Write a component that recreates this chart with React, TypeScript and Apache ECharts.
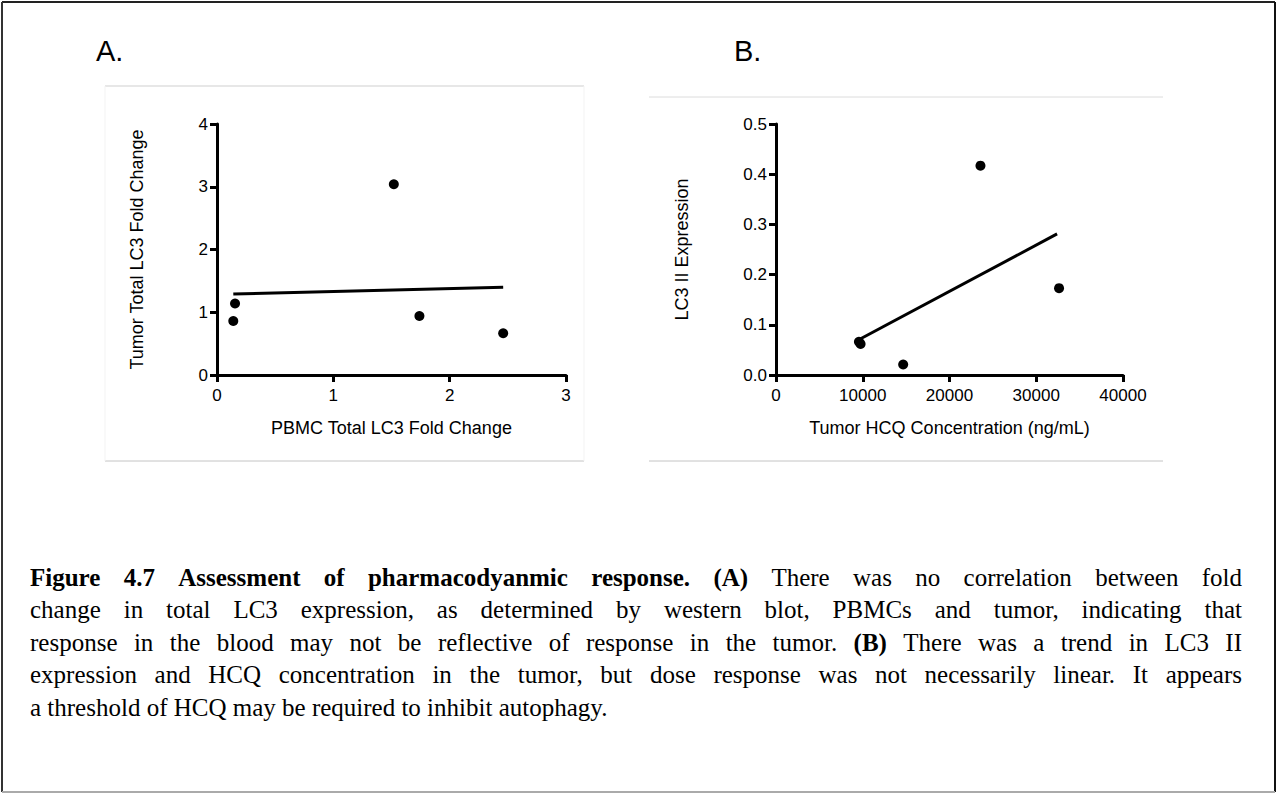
import React, { useEffect, useRef } from "react";
import * as echarts from "echarts";

// ---- Data ----
const panelLabels = ["A.", "B."];
// Panel A: PBMC vs tumor total LC3 fold change
const pbmcFold = [0.14, 0.155, 1.52, 1.74, 2.46];
const tumorFold = [0.86, 1.14, 3.04, 0.94, 0.665];
const fitAX = [0.14, 2.46];
const fitAY = [1.29, 1.40];
const xTicksA = [0, 1, 2, 3];
const yTicksA = [0, 1, 2, 3, 4];
const xTitleA = "PBMC Total LC3 Fold Change";
const yTitleA = "Tumor Total LC3 Fold Change";
// Panel B: tumor HCQ concentration vs LC3 II expression
const hcqConc = [9560, 9750, 14660, 23570, 32630];
const lc3Expr = [0.066, 0.062, 0.021, 0.417, 0.173];
const fitBX = [9480, 32400];
const fitBY = [0.0697, 0.281];
const xTicksB = [0, 10000, 20000, 30000, 40000];
const yTicksB = [0, 0.1, 0.2, 0.3, 0.4, 0.5];
const xTitleB = "Tumor HCQ Concentration (ng/mL)";
const yTitleB = "LC3 II Expression";
// Caption (bold flag per segment)
const captionLines: { t: string; b: boolean }[][] = [
  [
    { t: "Figure 4.7 Assessment of pharmacodyanmic response. (A)", b: true },
    { t: "There was no correlation between fold", b: false },
  ],
  [{ t: "change in total LC3 expression, as determined by western blot, PBMCs and tumor, indicating that", b: false }],
  [
    { t: "response in the blood may not be reflective of response in the tumor.", b: false },
    { t: "(B)", b: true },
    { t: "There was a trend in LC3 II", b: false },
  ],
  [{ t: "expression and HCQ concentration in the tumor, but dose response was not necessarily linear. It appears", b: false }],
  [{ t: "a threshold of HCQ may be required to inhibit autophagy.", b: false }],
];

const SANS = "Liberation Sans";
const SERIF = "Liberation Serif";
const CAP_SIZE = 25;

function buildCaption(): any[] {
  const canvas = document.createElement("canvas");
  const ctx = canvas.getContext("2d")!;
  const left = 30;
  const right = 1242;
  const top = 577;
  const lh = 32.5;
  const els: any[] = [];
  captionLines.forEach((line, li) => {
    const words: { t: string; b: boolean; w: number }[] = [];
    line.forEach((seg) => {
      seg.t.split(" ").forEach((w) => {
        ctx.font = `${seg.b ? "bold " : ""}${CAP_SIZE}px "${SERIF}"`;
        words.push({ t: w, b: seg.b, w: ctx.measureText(w).width });
      });
    });
    const total = words.reduce((s, w) => s + w.w, 0);
    const last = li === captionLines.length - 1;
    ctx.font = `${CAP_SIZE}px "${SERIF}"`;
    const space = last ? ctx.measureText(" ").width : (right - left - total) / (words.length - 1);
    let x = left;
    const y = top + li * lh;
    words.forEach((w) => {
      els.push({
        type: "text",
        x,
        y,
        style: {
          text: w.t,
          font: `${w.b ? "bold " : ""}${CAP_SIZE}px "${SERIF}"`,
          fill: "#000",
          textAlign: "left",
          textVerticalAlign: "middle",
          align: "left",
          verticalAlign: "middle",
        },
      });
      x += w.w + space;
    });
  });
  return els;
}

function axis(min: number, max: number, interval: number, gridIndex: number, name: string, nameGap: number, fmt: (v: number) => string, labelMargin: number) {
  return {
    type: "value",
    gridIndex,
    min,
    max,
    interval,
    name,
    nameLocation: "middle",
    nameGap,
    nameTextStyle: { color: "#000", fontSize: 18, fontFamily: SANS },
    axisLine: { show: true, onZero: false, lineStyle: { color: "#000", width: 3 } },
    axisTick: { show: true, inside: false, length: 7, lineStyle: { color: "#000", width: 3 } },
    axisLabel: { color: "#000", fontSize: 17, fontFamily: SANS, margin: labelMargin, formatter: fmt },
    splitLine: { show: false },
  };
}

export default function App() {
  const ref = useRef<HTMLDivElement>(null);
  useEffect(() => {
    document.body.style.margin = "0";
    const chart = echarts.init(ref.current!, null, { renderer: "svg" });
    const fmtA = (v: number) => String(v);
    const fmtB = (v: number) => v.toFixed(1);
    const option: any = {
      animation: false,
      backgroundColor: "#fff",
      grid: [
        { left: 217, top: 124, width: 349, height: 251 },
        { left: 776, top: 124, width: 347, height: 251 },
      ],
      xAxis: [
        axis(xTicksA[0], xTicksA[xTicksA.length - 1], xTicksA[1] - xTicksA[0], 0, xTitleA, 44, fmtA, 12),
        axis(xTicksB[0], xTicksB[xTicksB.length - 1], xTicksB[1] - xTicksB[0], 1, xTitleB, 44, fmtA, 12),
      ],
      yAxis: [
        axis(yTicksA[0], yTicksA[yTicksA.length - 1], yTicksA[1] - yTicksA[0], 0, yTitleA, 71, fmtA, 9),
        axis(yTicksB[0], yTicksB[yTicksB.length - 1], yTicksB[1] - yTicksB[0], 1, yTitleB, 85, fmtB, 9),
      ],
      series: [
        {
          type: "line",
          xAxisIndex: 0,
          yAxisIndex: 0,
          data: fitAX.map((x, i) => [x, fitAY[i]]),
          showSymbol: false,
          symbol: "none",
          lineStyle: { color: "#000", width: 3 },
          z: 3,
        },
        {
          type: "scatter",
          xAxisIndex: 0,
          yAxisIndex: 0,
          data: pbmcFold.map((x, i) => [x, tumorFold[i]]),
          symbol: "circle",
          symbolSize: 10,
          itemStyle: { color: "#000", opacity: 1 },
          z: 4,
        },
        {
          type: "line",
          xAxisIndex: 1,
          yAxisIndex: 1,
          data: fitBX.map((x, i) => [x, fitBY[i]]),
          showSymbol: false,
          symbol: "none",
          lineStyle: { color: "#000", width: 3 },
          z: 3,
        },
        {
          type: "scatter",
          xAxisIndex: 1,
          yAxisIndex: 1,
          data: hcqConc.map((x, i) => [x, lc3Expr[i]]),
          symbol: "circle",
          symbolSize: 10,
          itemStyle: { color: "#000", opacity: 1 },
          z: 4,
        },
      ],
      graphic: [
        // outer frame
        { type: "line", shape: { x1: 2, y1: 2, x2: 1275, y2: 2 }, style: { stroke: "#222", lineWidth: 2 } },
        { type: "line", shape: { x1: 2, y1: 2, x2: 2, y2: 792 }, style: { stroke: "#333", lineWidth: 2 } },
        { type: "line", shape: { x1: 1275, y1: 2, x2: 1275, y2: 792 }, style: { stroke: "#111", lineWidth: 2 } },
        { type: "line", shape: { x1: 2, y1: 792, x2: 1275, y2: 792 }, style: { stroke: "#aaa", lineWidth: 2 } },
        // panel A box
        { type: "line", shape: { x1: 105, y1: 86, x2: 584, y2: 86 }, style: { stroke: "#cfcfcf", lineWidth: 1 } },
        { type: "line", shape: { x1: 105, y1: 461, x2: 584, y2: 461 }, style: { stroke: "#c4c4c4", lineWidth: 1 } },
        { type: "line", shape: { x1: 105, y1: 86, x2: 105, y2: 461 }, style: { stroke: "#f3f3f3", lineWidth: 1 } },
        { type: "line", shape: { x1: 584, y1: 86, x2: 584, y2: 461 }, style: { stroke: "#f3f3f3", lineWidth: 1 } },
        // panel B box
        { type: "line", shape: { x1: 649, y1: 97, x2: 1163, y2: 97 }, style: { stroke: "#dcdcdc", lineWidth: 1 } },
        { type: "line", shape: { x1: 649, y1: 461, x2: 1163, y2: 461 }, style: { stroke: "#c4c4c4", lineWidth: 1 } },
        // panel labels
        {
          type: "text",
          x: 96,
          y: 51,
          style: { text: panelLabels[0], font: `29px "${SANS}"`, fill: "#000", textAlign: "left", textVerticalAlign: "middle", align: "left", verticalAlign: "middle" },
        },
        {
          type: "text",
          x: 734,
          y: 51,
          style: { text: panelLabels[1], font: `29px "${SANS}"`, fill: "#000", textAlign: "left", textVerticalAlign: "middle", align: "left", verticalAlign: "middle" },
        },
        ...buildCaption(),
      ],
    };
    chart.setOption(option);
    return () => chart.dispose();
  }, []);
  return <div ref={ref} style={{ width: 1284, height: 794 }} />;
}
